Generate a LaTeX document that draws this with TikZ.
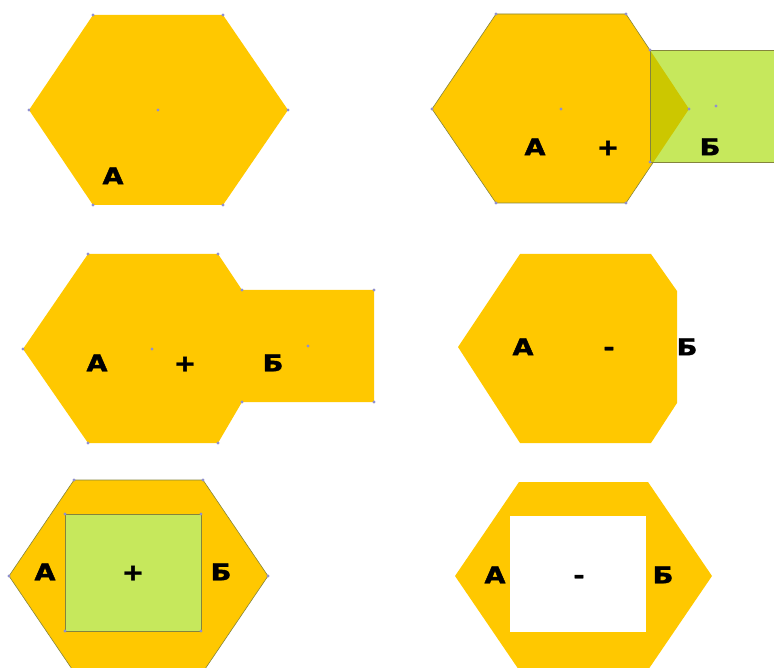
\documentclass[tikz,border=0pt]{standalone}
\usepackage{fontspec}
\usepackage{graphicx}
\newfontfamily\tagfont[FakeBold=1.6]{DejaVu Sans Bold}
\definecolor{Honey}{HTML}{FFC800}
\definecolor{Lime}{HTML}{C6E85C}
\definecolor{Olive}{HTML}{CCC700}
\definecolor{Edge}{HTML}{84843C}
\definecolor{Handle}{HTML}{9090D0}
\newcommand{\widetag}[1]{\scalebox{1.18}[1]{#1}}
\tikzset{
  hexa/.style={fill=Honey},
  hexaline/.style={fill=Honey, draw=Edge, line width=0.6pt},
  patch/.style={fill=Lime, draw=Edge, line width=0.6pt},
  hole/.style={fill=white},
  overlap/.style={fill=Olive},
  tag/.style={
    font=\tagfont\fontsize{23}{23}\selectfont,
    inner sep=0pt, text height=16.5pt, text depth=0pt
  },
  handle/.style={fill=Handle}
}

\begin{document}
\begin{tikzpicture}[x=1pt,y=-1pt]
  \useasboundingbox (0,0) rectangle (774,668);
  \clip (0,0) rectangle (774,668);

  % top left: A alone
  \fill[hexa] (93,15) -- (223,15) -- (288,110) -- (223,205) -- (93,205) -- (29,110) -- cycle;
  \node[tag] (a1) at (113,176) {\widetag{А}};

  % top right: A + B, overlapping
  \draw[hexaline] (496,14) -- (626,14) -- (689,109) -- (626,203) -- (496,203) -- (432,109) -- cycle;
  \draw[patch] (650,50) rectangle (776,162);
  \begin{scope}
    \clip (650,50) rectangle (776,162);
    \fill[overlap] (496,14) -- (626,14) -- (689,109) -- (626,203) -- (496,203) -- (432,109) -- cycle;
  \end{scope}
  \draw[Edge, line width=0.6pt] (650,50) -- (650,162);
  \node[tag] (a2) at (535,147) {\widetag{А}};
  \node[tag] (p2) at (608,147) {\widetag{+}};
  \node[tag] (b2) at (710,147) {\widetag{Б}};

  % middle left: union
  \fill[hexa] (88,254) -- (218,254) -- (242,290) -- (374,290) -- (374,402) -- (242,402)
    -- (218,443) -- (88,443) -- (23,349) -- cycle;
  \node[tag] (a3) at (97,363) {\widetag{А}};
  \node[tag] (p3) at (185,363) {\widetag{+}};
  \node[tag] (b3) at (273,363) {\widetag{Б}};

  % middle right: difference
  \fill[hexa] (520,254) -- (651,254) -- (677,291) -- (677,403) -- (651,443) -- (520,443)
    -- (458,347) -- cycle;
  \node[tag] (a4) at (523,347) {\widetag{А}};
  \node[tag] (m4) at (609,347) {\widetag{-}};
  \node[tag] (b4) at (687,347) {\widetag{Б}};

  % bottom left: square inside, added
  \draw[hexaline] (74,480) -- (203,480) -- (268,576) -- (203,672) -- (74,672) -- (9,576) -- cycle;
  \draw[patch] (65,514) rectangle (201,631);
  \node[tag] (a5) at (45,572) {\widetag{А}};
  \node[tag] (p5) at (133,572) {\widetag{+}};
  \node[tag] (b5) at (221,572) {\widetag{Б}};

  % bottom right: square cut out
  \fill[hexa] (519,482) -- (648,482) -- (712,576) -- (648,670) -- (519,670) -- (455,576) -- cycle;
  \fill[hole] (510,516) rectangle (646,632);
  \node[tag] (a6) at (495,575) {\widetag{А}};
  \node[tag] (m6) at (579,575) {\widetag{-}};
  \node[tag] (b6) at (663,575) {\widetag{Б}};

  % handles
  \foreach \p in {(93,15),(223,15),(288,110),(223,205),(93,205),(29,110),(158,110),
    (496,14),(626,14),(689,109),(626,203),(496,203),(432,109),(561,109),(650,50),(650,162),(716,106),
    (88,254),(218,254),(242,290),(374,290),(374,402),(242,402),(218,443),(88,443),(23,349),(152,349),(308,346),
    (74,480),(203,480),(268,576),(9,576),(65,514),(201,514),(65,631),(201,631)}
    \fill[handle] \p circle (1.6);
\end{tikzpicture}
\end{document}
